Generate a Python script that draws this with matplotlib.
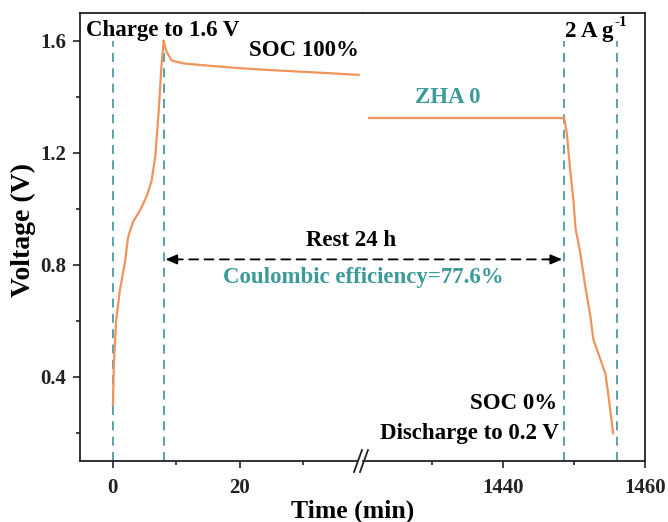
import matplotlib
matplotlib.use("Agg")
import matplotlib.pyplot as plt
import numpy as np

# ---- data ----
charge_t = [0.0, 0.16, 0.5, 1.1, 1.9, 2.4, 3.2, 4.3, 5.3, 6.1, 6.7, 7.2, 7.7, 7.98, 8.0]
charge_v = [0.30, 0.45, 0.60, 0.71, 0.81, 0.90, 0.955, 0.996, 1.044, 1.10, 1.19, 1.34, 1.52, 1.59, 1.60]
rest1_t = [8.0, 8.5, 9.3, 11.1, 15.0, 20.0, 25.0, 30.0, 35.0, 38.8]
rest1_v = [1.60, 1.56, 1.53, 1.52, 1.512, 1.503, 1.496, 1.49, 1.484, 1.479]
rest2_t = [1421.0, 1430.0, 1440.0, 1448.6]
rest2_v = [1.324, 1.324, 1.324, 1.324]
dis_t = [1448.6, 1448.97, 1449.4, 1449.9, 1450.2, 1450.8, 1451.5, 1452.3, 1452.7, 1453.4, 1454.4, 1454.8, 1455.5]
dis_v = [1.324, 1.27, 1.15, 1.03, 0.93, 0.853, 0.735, 0.615, 0.535, 0.485, 0.413, 0.342, 0.199]
vlines_left = [0.0, 8.0]
vlines_right = [1448.6, 1456.0]
left_xticks = [0, 20]
left_minor = [10, 30]
right_xticks = [1440, 1460]
right_minor = [1430, 1450]
yticks = [0.4, 0.8, 1.2, 1.6]
yminor = [0.2, 0.6, 1.0, 1.4]

ORANGE = "#f0935c"
TEAL = "#3c9a9a"
VTEAL = "#4a9aa6"
SPINE = "#222222"

plt.rcParams["font.family"] = ["Liberation Serif", "DejaVu Serif"]
plt.rcParams["font.weight"] = "bold"

W, H = 668, 522
fig = plt.figure(figsize=(W / 100, H / 100), dpi=100)
L, R, T, B, BRK = 80, 645, 13, 461, 363
ax1 = fig.add_axes([L / W, 1 - B / H, (BRK - L) / W, (B - T) / H])
ax2 = fig.add_axes([BRK / W, 1 - B / H, (R - BRK) / W, (B - T) / H], sharey=ax1)

TFS = 15
for ax in (ax1, ax2):
    ax.patch.set_visible(False)
    for s in ax.spines.values():
        s.set_linewidth(1.3)
        s.set_color(SPINE)
    ax.tick_params(direction="out", length=5, width=1.2, labelsize=TFS, colors=SPINE, pad=7)
    ax.tick_params(which="minor", direction="out", length=3, width=1.2, colors=SPINE)

ax1.spines["right"].set_visible(False)
ax2.spines["left"].set_visible(False)
ax2.tick_params(axis="y", which="both", left=False, labelleft=False)
ax1.tick_params(axis="y", pad=5)

ax1.set_ylim(0.1, 1.7)
ax1.set_yticks(yticks)
ax1.set_yticks(yminor, minor=True)
ax1.set_yticklabels([f"{v:.1f}" for v in yticks], fontweight="bold")
ax1.set_xlim(-5.2, 39.5)
ax1.set_xticks(left_xticks)
ax1.set_xticks(left_minor, minor=True)
ax1.set_xticklabels([str(v) for v in left_xticks], fontweight="bold")
ax2.set_xlim(1420.2, 1460)
ax2.set_xticks(right_xticks)
ax2.set_xticks(right_minor, minor=True)
ax2.set_xticklabels([str(v) for v in right_xticks], fontweight="bold")

# vertical dashed guides
for x in vlines_left:
    ax1.plot([x, x], [0.1, 1.6], color=VTEAL, lw=1.3, ls=(0, (5, 3.5)), zorder=1)
for x in vlines_right:
    ax2.plot([x, x], [0.1, 1.6], color=VTEAL, lw=1.3, ls=(0, (5, 3.5)), zorder=1)

# curves
ax1.plot(charge_t, charge_v, color=ORANGE, lw=1.6, zorder=3)
ax1.plot(rest1_t, rest1_v, color=ORANGE, lw=1.6, zorder=3)
ax2.plot(rest2_t, rest2_v, color=ORANGE, lw=1.6, zorder=3)
ax2.plot(dis_t, dis_v, color=ORANGE, lw=1.6, zorder=3)

# double arrow across the break
ya = 0.82
ax1.annotate("", xy=(1448.3, ya), xycoords=ax2.transData, xytext=(8.3, ya), textcoords=ax1.transData,
             arrowprops=dict(arrowstyle="-", color="black", lw=1.3, ls=(0, (5, 3.5)),
                             shrinkA=6, shrinkB=6), annotation_clip=False)
ax1.annotate("", xy=(8.3, ya), xytext=(10.5, ya),
             arrowprops=dict(arrowstyle="-|>,head_length=0.7,head_width=0.3", color="black", lw=1.2,
                             shrinkA=0, shrinkB=0))
ax2.annotate("", xy=(1448.3, ya), xytext=(1446.3, ya),
             arrowprops=dict(arrowstyle="-|>,head_length=0.7,head_width=0.3", color="black", lw=1.2,
                             shrinkA=0, shrinkB=0))

# texts
fs = 16.5
ax1.text(-4.3, 1.637, "Charge to 1.6 V", fontsize=fs, fontweight="bold", ha="left", va="center")
ax1.text(30.1, 1.565, "SOC 100%", fontsize=fs, fontweight="bold", ha="center", va="center")
ax2.text(1432.1, 1.398, "ZHA 0", fontsize=fs, fontweight="bold", ha="center", va="center", color=TEAL)
tg = ax2.text(1448.7, 1.614, "2 A g", fontsize=fs, fontweight="bold", ha="left", va="baseline")
ax2.annotate("-1", xy=(1.0, 0.62), xycoords=tg, xytext=(1, 0), textcoords="offset points",
             fontsize=11, fontweight="bold", ha="left", va="bottom")
ax1.text(37.6, 0.889, "Rest 24 h", fontsize=fs, fontweight="bold", ha="center", va="center")
ax1.text(39.6, 0.754, "Coulombic efficiency=77.6%", fontsize=fs, fontweight="bold", ha="center",
         va="center", color=TEAL)
ax2.text(1447.6, 0.307, "SOC 0%", fontsize=fs, fontweight="bold", ha="right", va="center")
ax2.text(1447.9, 0.200, "Discharge to 0.2 V", fontsize=fs, fontweight="bold", ha="right", va="center")

fig.text(23 / W, 1 - 230 / H, "Voltage (V)", fontsize=20, fontweight="bold", rotation=90,
         ha="center", va="center")
fig.text(353 / W, 1 - 511 / H, "Time (min)", fontsize=18.5, fontweight="bold", ha="center", va="center")

# break marks "//" on bottom spine
wpx = BRK - L
for dx in (-5, 1):
    xf = 1 + dx / wpx
    ax1.plot([xf - 4 / wpx, xf + 4 / wpx], [-11 / (B - T), 11 / (B - T)], transform=ax1.transAxes,
             color=SPINE, lw=1.3, clip_on=False, zorder=10)
ax1.fill([1 - 9 / wpx, 1 - 1 / wpx, 1 + 5 / wpx, 1 - 3 / wpx],
         [-11 / (B - T), 11 / (B - T), 11 / (B - T), -11 / (B - T)],
         transform=ax1.transAxes, color="white", clip_on=False, zorder=9, lw=0)

fig.savefig("out.png", dpi=100)
